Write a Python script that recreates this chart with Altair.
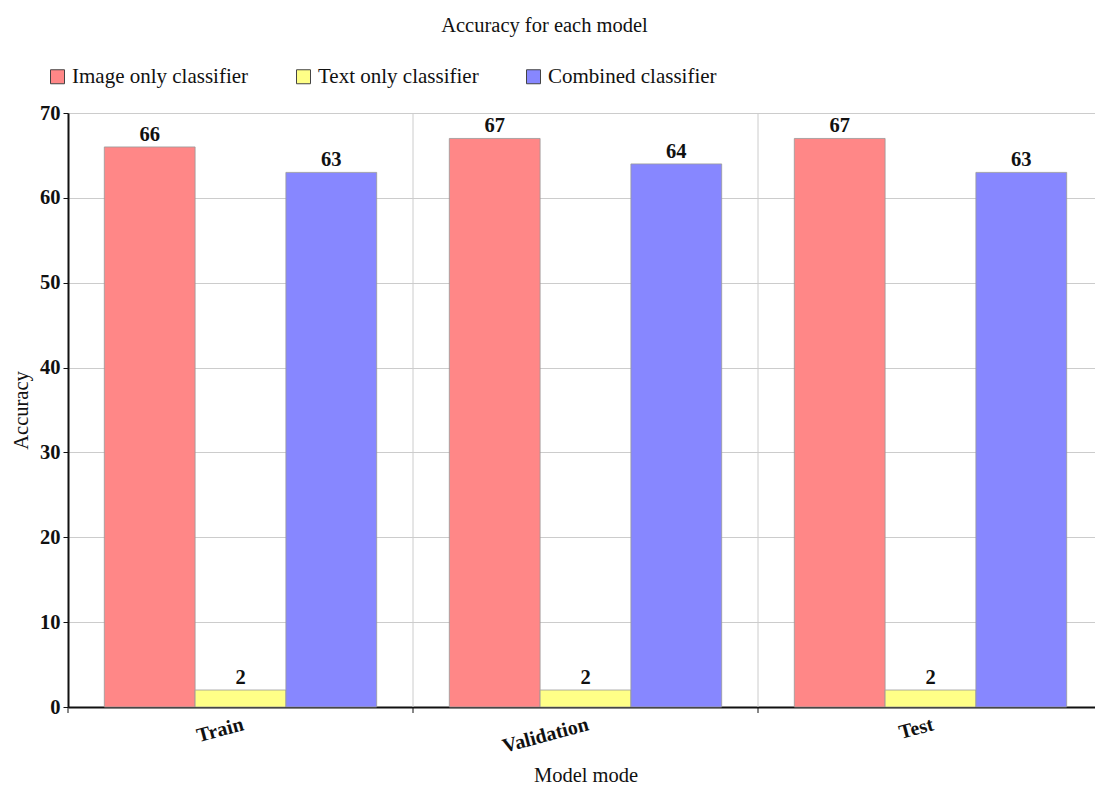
import altair as alt
import pandas as pd

modes = ["Train", "Validation", "Test"]
classifiers = ["Image only classifier", "Text only classifier", "Combined classifier"]
colors = ["#FF8787", "#FFFF87", "#8787FF"]

image_acc = [66, 67, 67]
text_acc = [2, 2, 2]
combined_acc = [63, 64, 63]

rows = []
for i, m in enumerate(modes):
    for c, vals in zip(classifiers, [image_acc, text_acc, combined_acc]):
        rows.append({"mode": m, "classifier": c, "accuracy": vals[i]})
df = pd.DataFrame(rows)

FONT = "Liberation Serif"
FS = 20.5
INK = "#111111"

x_enc = alt.X(
    "mode:N",
    sort=modes,
    scale=alt.Scale(paddingInner=0, paddingOuter=0, range=[0, 1035]),
    axis=alt.Axis(
        title="Model mode",
        labelAngle=345,
        labelAlign="right",
        labelBaseline="top",
        labelPadding=7,
        labelFont=FONT,
        labelFontSize=FS - 0.5,
        labelFontWeight="bold",
        labelColor=INK,
        titleFont=FONT,
        titleFontSize=FS,
        titleFontWeight="normal",
        titleColor=INK,
        titlePadding=9,
        grid=False,
        ticks=False,
        domainColor=INK,
        domainWidth=2,
    ),
)
xoff = alt.XOffset(
    "classifier:N",
    sort=classifiers,
    scale=alt.Scale(paddingInner=0, paddingOuter=0.4),
)
y_enc = alt.Y(
    "accuracy:Q",
    scale=alt.Scale(domain=[0, 70], nice=False),
    axis=alt.Axis(
        title="Accuracy",
        values=list(range(0, 71, 10)),
        labelFont=FONT,
        labelFontSize=FS,
        labelFontWeight="bold",
        labelColor=INK,
        labelPadding=3,
        titleFont=FONT,
        titleFontSize=FS,
        titleFontWeight="normal",
        titleColor=INK,
        titlePadding=8,
        gridColor="#cccccc",
        gridWidth=1,
        tickColor=INK,
        tickSize=5,
        domainColor=INK,
        domainWidth=2,
    ),
)

bars = alt.Chart(df).mark_bar(stroke="#999999", strokeWidth=0.8).encode(
    x=x_enc,
    xOffset=xoff,
    y=y_enc,
    color=alt.Color(
        "classifier:N",
        sort=classifiers,
        scale=alt.Scale(domain=classifiers, range=colors),
        legend=alt.Legend(
            title=None,
            orient="none",
            legendX=-21,
            legendY=-47,
            direction="horizontal",
            symbolType="square",
            symbolSize=196,
            symbolStrokeColor="#444",
            symbolStrokeWidth=1,
            symbolOpacity=1,
            labelFont=FONT,
            labelFontSize=21,
            labelColor=INK,
            labelOffset=4,
            labelLimit=0,
            columnPadding=44,
        ),
    ),
)

labels = alt.Chart(df).mark_text(
    baseline="bottom", dy=-2, font=FONT, fontSize=FS, fontWeight="bold", color=INK
).encode(
    x=alt.X("mode:N", sort=modes),
    xOffset=alt.XOffset("classifier:N", sort=classifiers),
    y="accuracy:Q",
    text="accuracy:Q",
)

# vertical separators at the start of each category band
seps = alt.Chart(pd.DataFrame({"mode": modes[1:]})).mark_rule(
    color="#cccccc", strokeWidth=1
).encode(x=alt.X("mode:N", sort=modes, bandPosition=0))

boundary_ticks = alt.Chart(pd.DataFrame({"mode": modes})).mark_rule(
    color=INK, strokeWidth=1
).encode(
    x=alt.X("mode:N", sort=modes, bandPosition=0),
    y=alt.value(594),
    y2=alt.value(600),
)

chart = (
    alt.layer(seps, bars, labels, boundary_ticks)
    .properties(
        width=1027,
        height=594,
        autosize=alt.AutoSizeParams(type="none"),
        padding={"left": 68, "top": 113, "right": 0, "bottom": 80},
        title=alt.Title(
            "Accuracy for each model",
            font=FONT,
            fontSize=FS,
            fontWeight="normal",
            color=INK,
            anchor="middle",
            frame="group",
            dx=-37,
            offset=30,
        ),
    )
    .configure_view(stroke=INK, strokeWidth=1.5)
    .configure(background="white")
)

chart.save("out.html", embed_options={"renderer": "svg", "actions": False})
